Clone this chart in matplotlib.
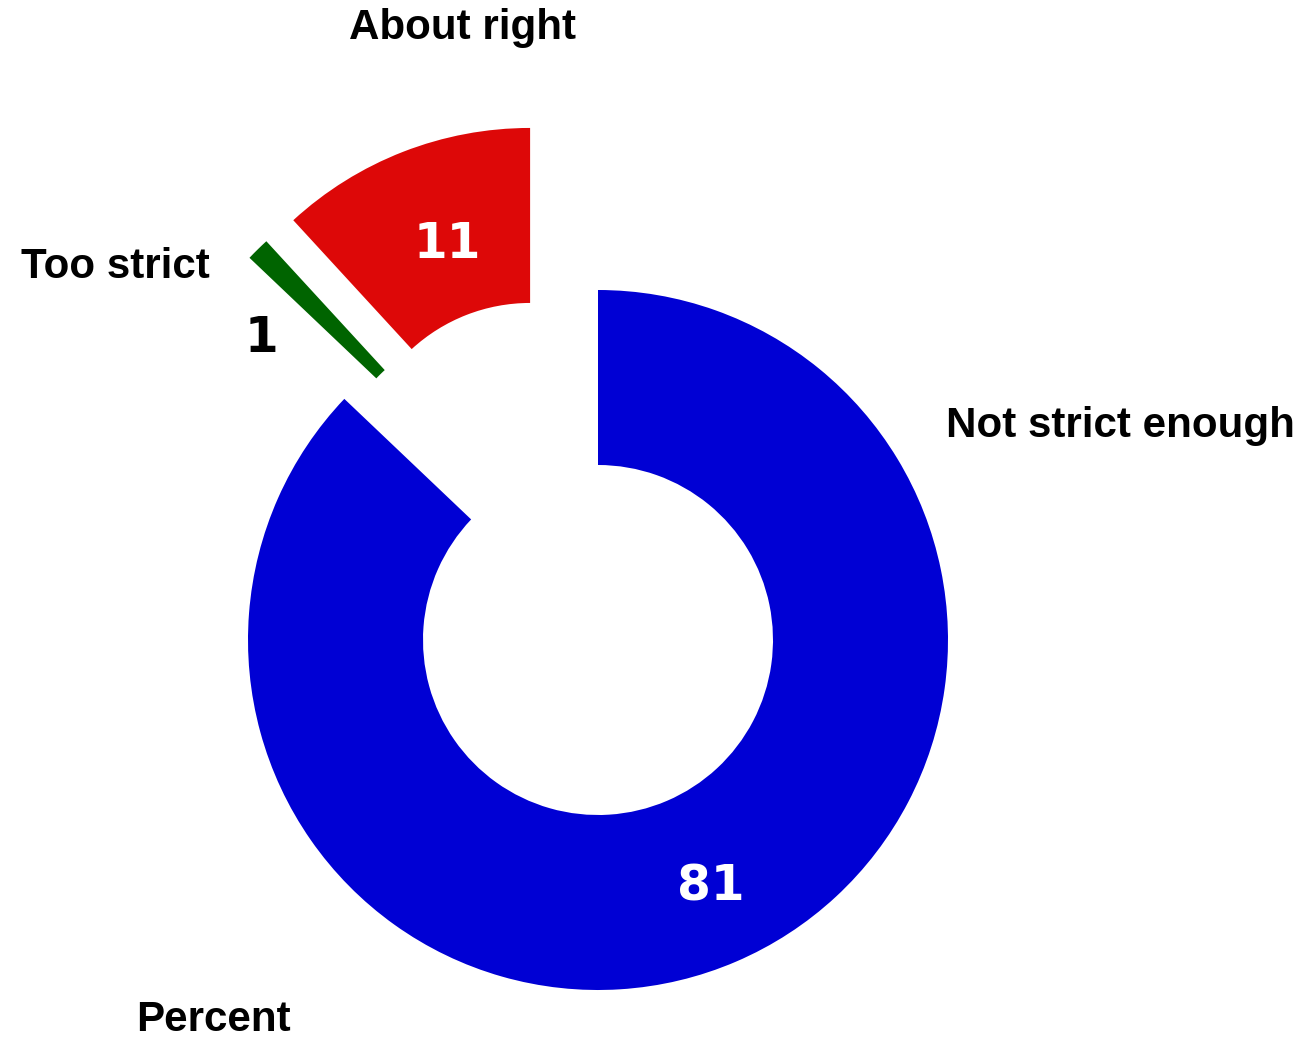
import matplotlib
matplotlib.use("Agg")
import matplotlib.pyplot as plt
from matplotlib.patches import Wedge

labels = ["Not strict enough", "Too strict", "About right"]
values = [81, 1, 11]
colors = ["#0000d4", "#006400", "#dd0808"]

# wedge centre shifts (exploded slices), in radius units
offsets = [(0.0, 0.0), (-0.271, 0.403), (-0.194, 0.463)]
# where each value is written
value_pos = [(0.323, -0.703), (-0.963, 0.863), (-0.431, 1.131)]
value_color = ["white", "black", "white"]

fig = plt.figure(figsize=(13.11, 10.39), dpi=100)
ax = fig.add_axes([0, 0, 1, 1])
ax.set_xlim(-598 / 350, 713 / 350)
ax.set_ylim(-399 / 350, 640 / 350)
ax.set_aspect("equal")
ax.axis("off")

total = sum(values)
start = 0.0  # degrees clockwise from 12 o'clock
for v, c, (dx, dy) in zip(values, colors, offsets):
    span = v / total * 360
    ax.add_patch(Wedge((dx, dy), 1.0, 90 - (start + span), 90 - start,
                       width=0.5, facecolor=c, edgecolor="none"))
    start += span

num_font = dict(family="DejaVu Sans", fontweight="bold", fontsize=35)
lab_font = dict(family="Liberation Sans", fontweight="bold", fontsize=30.3)

for v, (x, y), tc in zip(values, value_pos, value_color):
    ax.text(x, y, str(v), color=tc, ha="center", va="center", **num_font)

ax.text(0.994, 0.611, labels[0], ha="left", va="center", **lab_font)
ax.text(-1.38, 1.066, labels[1], ha="center", va="center", **lab_font)
ax.text(-0.386, 1.749, labels[2], ha="center", va="center", **lab_font)
ax.text(-1.10, -1.086, "Percent", ha="center", va="center", **lab_font)

fig.savefig("out.png", dpi=100)
